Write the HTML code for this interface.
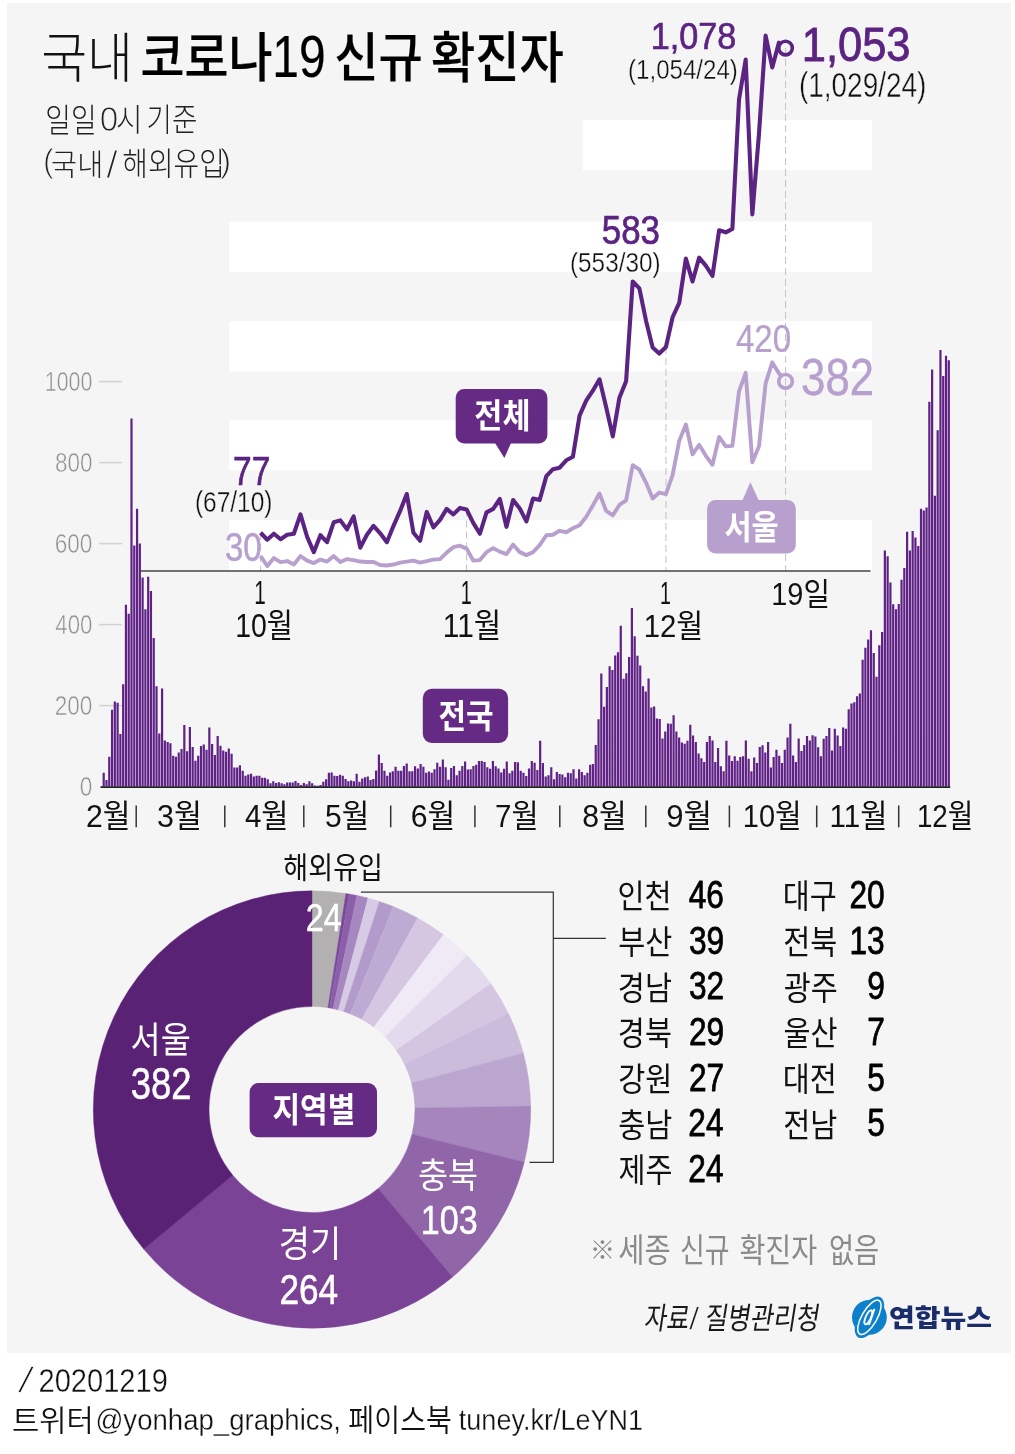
<!DOCTYPE html>
<html lang="ko"><head><meta charset="utf-8"><title>국내 코로나19 신규 확진자</title>
<style>
html,body{margin:0;padding:0;background:#fff}
svg{display:block}
text{font-family:"Liberation Sans","Noto Sans CJK KR",sans-serif;}
</style></head><body>
<svg width="1015" height="1454" viewBox="0 0 1015 1454">
<rect x="7.00" y="3.00" width="1004.00" height="1350.00" fill="#f5f5f5"/>
<text transform="translate(41.21,77.71) scale(0.9210,1)" font-size="54.16" font-weight="300" fill="#111">국내</text>
<text transform="translate(140.39,77.29) scale(0.8954,1)" font-size="53.44" font-weight="500" fill="#000" stroke="#000" stroke-width="0.21" stroke-linejoin="round">코로나</text>
<text transform="translate(272.34,76.91) scale(0.8192,1)" font-size="58.59" font-weight="400" fill="#000" stroke="#000" stroke-width="0.18" stroke-linejoin="round">19</text>
<text transform="translate(334.19,77.04) scale(0.9116,1)" font-size="52.90" font-weight="500" fill="#000" stroke="#000" stroke-width="0.21" stroke-linejoin="round">신규</text>
<text transform="translate(430.97,76.87) scale(0.8797,1)" font-size="54.73" font-weight="500" fill="#000" stroke="#000" stroke-width="0.22" stroke-linejoin="round">확진자</text>
<text transform="translate(45.26,131.55) scale(0.8597,1)" font-size="32.50" font-weight="300" fill="#222">일일</text>
<text transform="translate(99.83,130.84) scale(0.9710,1)" font-size="34.33" font-weight="400" fill="#222" stroke="#f5f5f5" stroke-width="1.03" stroke-linejoin="round">0</text>
<text transform="translate(116.08,131.25) scale(0.8947,1)" font-size="32.13" font-weight="300" fill="#222">시</text>
<text transform="translate(146.59,130.88) scale(0.8707,1)" font-size="31.69" font-weight="300" fill="#222">기준</text>
<text transform="translate(42.95,172.34) scale(0.9384,1)" font-size="34.00" font-weight="400" fill="#222" stroke="#f5f5f5" stroke-width="1.02" stroke-linejoin="round">(</text>
<text transform="translate(51.10,174.76) scale(0.9695,1)" font-size="29.21" font-weight="300" fill="#222">국내</text>
<text transform="translate(106.17,178.19) scale(1.0476,1)" font-size="39.43" font-weight="400" fill="#222" stroke="#f5f5f5" stroke-width="1.18" stroke-linejoin="round">/</text>
<text transform="translate(122.31,175.29) scale(0.8889,1)" font-size="31.33" font-weight="300" fill="#222">해외유입</text>
<text transform="translate(220.01,172.34) scale(0.9944,1)" font-size="34.00" font-weight="400" fill="#222" stroke="#f5f5f5" stroke-width="1.02" stroke-linejoin="round">)</text>
<rect x="229.10" y="520.10" width="643.10" height="50.30" fill="#fff"/>
<rect x="229.10" y="420.30" width="643.10" height="50.30" fill="#fff"/>
<rect x="229.10" y="321.20" width="643.10" height="50.30" fill="#fff"/>
<rect x="229.10" y="221.60" width="643.10" height="50.30" fill="#fff"/>
<rect x="582.70" y="119.90" width="289.50" height="50.30" fill="#fff"/>
<text transform="translate(79.77,796.00) scale(0.8298,1)" font-size="27.25" font-weight="400" fill="#8f8f8f" stroke="#f5f5f5" stroke-width="0.54" stroke-linejoin="round">0</text>
<text transform="translate(54.64,715.00) scale(0.8305,1)" font-size="27.25" font-weight="400" fill="#8f8f8f" stroke="#f5f5f5" stroke-width="0.54" stroke-linejoin="round">200</text>
<line x1="99.00" y1="705.60" x2="122.00" y2="705.60" stroke="#d2d2d2" stroke-width="1.5"/>
<text transform="translate(55.33,634.00) scale(0.8148,1)" font-size="27.25" font-weight="400" fill="#8f8f8f" stroke="#f5f5f5" stroke-width="0.54" stroke-linejoin="round">400</text>
<line x1="99.00" y1="624.60" x2="122.00" y2="624.60" stroke="#d2d2d2" stroke-width="1.5"/>
<text transform="translate(54.64,553.00) scale(0.8305,1)" font-size="27.25" font-weight="400" fill="#8f8f8f" stroke="#f5f5f5" stroke-width="0.54" stroke-linejoin="round">600</text>
<line x1="99.00" y1="543.60" x2="122.00" y2="543.60" stroke="#d2d2d2" stroke-width="1.5"/>
<text transform="translate(54.88,472.00) scale(0.8252,1)" font-size="27.25" font-weight="400" fill="#8f8f8f" stroke="#f5f5f5" stroke-width="0.54" stroke-linejoin="round">800</text>
<line x1="99.00" y1="462.60" x2="122.00" y2="462.60" stroke="#d2d2d2" stroke-width="1.5"/>
<text transform="translate(44.77,391.00) scale(0.7870,1)" font-size="27.25" font-weight="400" fill="#8f8f8f" stroke="#f5f5f5" stroke-width="0.54" stroke-linejoin="round">1000</text>
<line x1="99.00" y1="381.60" x2="122.00" y2="381.60" stroke="#d2d2d2" stroke-width="1.5"/>
<path d="M102.60 786.60V772.83H104.80V786.60ZM105.38 786.60V780.12H107.58V786.60ZM108.16 786.60V756.63H110.36V786.60ZM110.94 786.60V709.65H113.14V786.60ZM113.72 786.60V701.55H115.92V786.60ZM116.50 786.60V702.76H118.70V786.60ZM119.28 786.60V733.95H121.48V786.60ZM122.06 786.60V684.13H124.26V786.60ZM124.84 786.60V604.75H127.04V786.60ZM127.62 786.60V613.66H129.82V786.60ZM130.40 786.60V418.45H132.60V786.60ZM133.18 786.60V545.62H135.38V786.60ZM135.96 786.60V508.77H138.16V786.60ZM138.74 786.60V543.60H140.94V786.60ZM141.52 786.60V577.62H143.72V786.60ZM144.30 786.60V609.21H146.50V786.60ZM147.08 786.60V576.81H149.28V786.60ZM149.86 786.60V590.99H152.06V786.60ZM152.64 786.60V637.97H154.84V786.60ZM155.42 786.60V686.16H157.62V786.60ZM158.20 786.60V733.55H160.40V786.60ZM160.98 786.60V688.59H163.18V786.60ZM163.76 786.60V740.43H165.96V786.60ZM166.54 786.60V742.05H168.74V786.60ZM169.32 786.60V743.26H171.52V786.60ZM172.10 786.60V755.82H174.30V786.60ZM174.88 786.60V756.63H177.08V786.60ZM177.66 786.60V752.58H179.86V786.60ZM180.44 786.60V748.94H182.64V786.60ZM183.22 786.60V725.04H185.42V786.60ZM186.00 786.60V751.37H188.20V786.60ZM188.78 786.60V727.07H190.98V786.60ZM191.56 786.60V746.91H193.76V786.60ZM194.34 786.60V760.68H196.54V786.60ZM197.12 786.60V755.82H199.32V786.60ZM199.90 786.60V746.10H202.10V786.60ZM202.68 786.60V744.48H204.88V786.60ZM205.46 786.60V749.75H207.66V786.60ZM208.24 786.60V727.47H210.44V786.60ZM211.02 786.60V744.08H213.22V786.60ZM213.80 786.60V755.01H216.00V786.60ZM216.58 786.60V735.98H218.78V786.60ZM219.36 786.60V745.70H221.56V786.60ZM222.14 786.60V750.56H224.34V786.60ZM224.92 786.60V751.77H227.12V786.60ZM227.70 786.60V748.53H229.90V786.60ZM230.48 786.60V753.80H232.68V786.60ZM233.26 786.60V767.57H235.46V786.60ZM236.04 786.60V767.57H238.24V786.60ZM238.82 786.60V765.13H241.02V786.60ZM241.60 786.60V770.81H243.80V786.60ZM244.38 786.60V775.67H246.58V786.60ZM247.16 786.60V774.45H249.36V786.60ZM249.94 786.60V773.64H252.14V786.60ZM252.72 786.60V776.48H254.92V786.60ZM255.50 786.60V775.67H257.70V786.60ZM258.28 786.60V775.67H260.48V786.60ZM261.06 786.60V777.69H263.26V786.60ZM263.84 786.60V777.69H266.04V786.60ZM266.62 786.60V779.31H268.82V786.60ZM269.40 786.60V783.36H271.60V786.60ZM272.18 786.60V781.34H274.38V786.60ZM274.96 786.60V782.96H277.16V786.60ZM277.74 786.60V782.14H279.94V786.60ZM280.52 786.60V783.36H282.72V786.60ZM283.30 786.60V784.17H285.50V786.60ZM286.08 786.60V782.55H288.28V786.60ZM288.86 786.60V782.55H291.06V786.60ZM291.64 786.60V782.55H293.84V786.60ZM294.42 786.60V780.93H296.62V786.60ZM297.20 786.60V782.96H299.40V786.60ZM299.98 786.60V784.98H302.18V786.60ZM302.76 786.60V782.96H304.96V786.60ZM305.54 786.60V784.17H307.74V786.60ZM308.32 786.60V781.34H310.52V786.60ZM311.10 786.60V783.36H313.30V786.60ZM313.87 786.60V785.38H316.07V786.60ZM316.65 786.60V785.79H318.85V786.60ZM319.43 786.60V784.98H321.63V786.60ZM322.21 786.60V781.74H324.41V786.60ZM324.99 786.60V779.31H327.19V786.60ZM327.77 786.60V772.83H329.97V786.60ZM330.55 786.60V772.43H332.75V786.60ZM333.33 786.60V775.67H335.53V786.60ZM336.11 786.60V776.07H338.31V786.60ZM338.89 786.60V774.86H341.09V786.60ZM341.67 786.60V775.67H343.87V786.60ZM344.45 786.60V778.90H346.65V786.60ZM347.23 786.60V781.34H349.43V786.60ZM350.01 786.60V780.52H352.21V786.60ZM352.79 786.60V781.34H354.99V786.60ZM355.57 786.60V773.64H357.77V786.60ZM358.35 786.60V781.74H360.55V786.60ZM361.13 786.60V778.50H363.33V786.60ZM363.91 786.60V777.28H366.11V786.60ZM366.69 786.60V776.48H368.89V786.60ZM369.47 786.60V780.12H371.67V786.60ZM372.25 786.60V778.90H374.45V786.60ZM375.03 786.60V770.40H377.23V786.60ZM377.81 786.60V754.61H380.01V786.60ZM380.59 786.60V763.11H382.79V786.60ZM383.37 786.60V770.81H385.57V786.60ZM386.15 786.60V775.67H388.35V786.60ZM388.93 786.60V772.43H391.13V786.60ZM391.71 786.60V771.21H393.91V786.60ZM394.49 786.60V766.75H396.69V786.60ZM397.27 786.60V770.81H399.47V786.60ZM400.05 786.60V770.81H402.25V786.60ZM402.83 786.60V765.95H405.03V786.60ZM405.61 786.60V763.51H407.81V786.60ZM408.39 786.60V771.21H410.59V786.60ZM411.17 786.60V771.21H413.37V786.60ZM413.95 786.60V766.35H416.15V786.60ZM416.73 786.60V768.38H418.93V786.60ZM419.51 786.60V763.92H421.71V786.60ZM422.29 786.60V766.75H424.49V786.60ZM425.07 786.60V772.83H427.27V786.60ZM427.85 786.60V771.62H430.05V786.60ZM430.63 786.60V772.83H432.83V786.60ZM433.41 786.60V769.19H435.61V786.60ZM436.19 786.60V762.71H438.39V786.60ZM438.97 786.60V766.75H441.17V786.60ZM441.75 786.60V759.47H443.95V786.60ZM444.53 786.60V767.16H446.73V786.60ZM447.31 786.60V779.72H449.51V786.60ZM450.09 786.60V767.97H452.29V786.60ZM452.87 786.60V765.95H455.07V786.60ZM455.65 786.60V775.26H457.85V786.60ZM458.43 786.60V770.81H460.63V786.60ZM461.21 786.60V765.95H463.41V786.60ZM463.99 786.60V761.49H466.19V786.60ZM466.77 786.60V769.59H468.97V786.60ZM469.55 786.60V769.19H471.75V786.60ZM472.33 786.60V765.95H474.53V786.60ZM475.11 786.60V764.73H477.31V786.60ZM477.89 786.60V761.09H480.09V786.60ZM480.67 786.60V761.09H482.87V786.60ZM483.45 786.60V761.89H485.65V786.60ZM486.23 786.60V767.16H488.43V786.60ZM489.01 786.60V768.78H491.21V786.60ZM491.79 786.60V761.09H493.99V786.60ZM494.57 786.60V766.35H496.77V786.60ZM497.35 786.60V768.38H499.55V786.60ZM500.13 786.60V772.43H502.33V786.60ZM502.91 786.60V768.78H505.11V786.60ZM505.69 786.60V761.49H507.89V786.60ZM508.47 786.60V773.24H510.67V786.60ZM511.25 786.60V770.81H513.45V786.60ZM514.03 786.60V761.89H516.23V786.60ZM516.81 786.60V762.30H519.01V786.60ZM519.59 786.60V770.81H521.79V786.60ZM522.37 786.60V772.83H524.57V786.60ZM525.15 786.60V776.07H527.35V786.60ZM527.93 786.60V768.38H530.13V786.60ZM530.71 786.60V761.09H532.91V786.60ZM533.49 786.60V762.71H535.69V786.60ZM536.27 786.60V770.00H538.47V786.60ZM539.05 786.60V740.84H541.25V786.60ZM541.83 786.60V763.11H544.03V786.60ZM544.61 786.60V776.48H546.81V786.60ZM547.39 786.60V775.26H549.59V786.60ZM550.17 786.60V767.16H552.37V786.60ZM552.95 786.60V779.31H555.15V786.60ZM555.73 786.60V772.02H557.93V786.60ZM558.51 786.60V774.05H560.71V786.60ZM561.29 786.60V774.45H563.49V786.60ZM564.07 786.60V777.28H566.27V786.60ZM566.85 786.60V772.83H569.05V786.60ZM569.63 786.60V773.24H571.83V786.60ZM572.41 786.60V769.19H574.61V786.60ZM575.19 786.60V778.50H577.39V786.60ZM577.97 786.60V769.19H580.17V786.60ZM580.75 786.60V772.02H582.95V786.60ZM583.53 786.60V775.26H585.73V786.60ZM586.31 786.60V772.83H588.51V786.60ZM589.09 786.60V764.73H591.29V786.60ZM591.87 786.60V763.92H594.07V786.60ZM594.65 786.60V744.88H596.85V786.60ZM597.43 786.60V719.37H599.63V786.60ZM600.21 786.60V673.61H602.41V786.60ZM602.99 786.60V706.82H605.19V786.60ZM605.77 786.60V686.97H607.97V786.60ZM608.55 786.60V666.32H610.75V786.60ZM611.33 786.60V669.96H613.53V786.60ZM614.11 786.60V655.38H616.31V786.60ZM616.89 786.60V652.14H619.09V786.60ZM619.67 786.60V625.82H621.87V786.60ZM622.45 786.60V678.87H624.65V786.60ZM625.23 786.60V673.20H627.43V786.60ZM628.01 786.60V657.00H630.21V786.60ZM630.79 786.60V608.00H632.99V786.60ZM633.57 786.60V636.35H635.77V786.60ZM636.35 786.60V655.79H638.55V786.60ZM639.13 786.60V665.50H641.33V786.60ZM641.91 786.60V686.16H644.11V786.60ZM644.69 786.60V691.42H646.89V786.60ZM647.47 786.60V678.47H649.67V786.60ZM650.25 786.60V707.62H652.45V786.60ZM653.03 786.60V706.41H655.23V786.60ZM655.81 786.60V718.56H658.01V786.60ZM658.59 786.60V718.97H660.79V786.60ZM661.37 786.60V738.40H663.57V786.60ZM664.15 786.60V731.52H666.35V786.60ZM666.93 786.60V723.42H669.13V786.60ZM669.71 786.60V723.83H671.91V786.60ZM672.49 786.60V715.32H674.69V786.60ZM675.27 786.60V731.52H677.47V786.60ZM678.05 786.60V737.60H680.25V786.60ZM680.83 786.60V742.46H683.03V786.60ZM683.61 786.60V743.67H685.81V786.60ZM686.39 786.60V740.84H688.59V786.60ZM689.17 786.60V724.63H691.37V786.60ZM691.95 786.60V735.57H694.15V786.60ZM694.73 786.60V742.05H696.93V786.60ZM697.51 786.60V753.39H699.71V786.60ZM700.29 786.60V758.25H702.49V786.60ZM703.07 786.60V761.89H705.27V786.60ZM705.85 786.60V742.05H708.05V786.60ZM708.63 786.60V735.98H710.83V786.60ZM711.41 786.60V740.43H713.61V786.60ZM714.19 786.60V761.89H716.39V786.60ZM716.97 786.60V748.12H719.17V786.60ZM719.75 786.60V766.35H721.95V786.60ZM722.53 786.60V771.21H724.73V786.60ZM725.31 786.60V740.84H727.51V786.60ZM728.09 786.60V755.41H730.29V786.60ZM730.87 786.60V761.09H733.07V786.60ZM733.65 786.60V756.23H735.85V786.60ZM736.42 786.60V760.68H738.62V786.60ZM739.20 786.60V757.03H741.40V786.60ZM741.98 786.60V756.23H744.18V786.60ZM744.76 786.60V740.43H746.96V786.60ZM747.54 786.60V758.65H749.74V786.60ZM750.32 786.60V771.21H752.52V786.60ZM753.10 786.60V757.44H755.30V786.60ZM755.88 786.60V763.11H758.08V786.60ZM758.66 786.60V746.91H760.86V786.60ZM761.44 786.60V745.29H763.64V786.60ZM764.22 786.60V752.58H766.42V786.60ZM767.00 786.60V742.05H769.20V786.60ZM769.78 786.60V767.57H771.98V786.60ZM772.56 786.60V757.03H774.76V786.60ZM775.34 786.60V749.75H777.54V786.60ZM778.12 786.60V755.82H780.32V786.60ZM780.90 786.60V763.11H783.10V786.60ZM783.68 786.60V749.75H785.88V786.60ZM786.46 786.60V737.60H788.66V786.60ZM789.24 786.60V723.83H791.44V786.60ZM792.02 786.60V755.41H794.22V786.60ZM794.80 786.60V761.89H797.00V786.60ZM797.58 786.60V738.40H799.78V786.60ZM800.36 786.60V750.96H802.56V786.60ZM803.14 786.60V744.88H805.34V786.60ZM805.92 786.60V735.98H808.12V786.60ZM808.70 786.60V740.43H810.90V786.60ZM811.48 786.60V735.16H813.68V786.60ZM814.26 786.60V736.38H816.46V786.60ZM817.04 786.60V747.32H819.24V786.60ZM819.82 786.60V756.23H822.02V786.60ZM822.60 786.60V738.81H824.80V786.60ZM825.38 786.60V735.98H827.58V786.60ZM828.16 786.60V727.88H830.36V786.60ZM830.94 786.60V750.56H833.14V786.60ZM833.72 786.60V728.69H835.92V786.60ZM836.50 786.60V735.57H838.70V786.60ZM839.28 786.60V746.10H841.48V786.60ZM842.06 786.60V727.47H844.26V786.60ZM844.84 786.60V728.69H847.04V786.60ZM847.62 786.60V709.25H849.82V786.60ZM850.40 786.60V703.58H852.60V786.60ZM853.18 786.60V702.36H855.38V786.60ZM855.96 786.60V696.28H858.16V786.60ZM858.74 786.60V693.45H860.94V786.60ZM861.52 786.60V659.84H863.72V786.60ZM864.30 786.60V647.68H866.50V786.60ZM867.08 786.60V639.59H869.28V786.60ZM869.86 786.60V630.27H872.06V786.60ZM872.64 786.60V652.95H874.84V786.60ZM875.42 786.60V676.85H877.62V786.60ZM878.20 786.60V645.25H880.40V786.60ZM880.98 786.60V631.89H883.18V786.60ZM883.76 786.60V550.49H885.96V786.60ZM886.54 786.60V556.15H888.74V786.60ZM889.32 786.60V582.48H891.52V786.60ZM892.10 786.60V604.35H894.30V786.60ZM894.88 786.60V609.21H897.08V786.60ZM897.66 786.60V603.95H899.86V786.60ZM900.44 786.60V579.64H902.64V786.60ZM903.22 786.60V567.90H905.42V786.60ZM906.00 786.60V531.86H908.20V786.60ZM908.78 786.60V550.49H910.98V786.60ZM911.56 786.60V531.05H913.76V786.60ZM914.34 786.60V537.52H916.54V786.60ZM917.12 786.60V546.03H919.32V786.60ZM919.90 786.60V508.77H922.10V786.60ZM922.68 786.60V510.39H924.88V786.60ZM925.46 786.60V507.56H927.66V786.60ZM928.24 786.60V401.85H930.44V786.60ZM931.02 786.60V369.45H933.22V786.60ZM933.80 786.60V495.81H936.00V786.60ZM936.58 786.60V430.20H938.78V786.60ZM939.36 786.60V350.01H941.56V786.60ZM942.14 786.60V375.93H944.34V786.60ZM944.92 786.60V355.68H947.12V786.60ZM947.70 786.60V360.13H949.90V786.60Z" fill="#5f2186"/>
<line x1="260.60" y1="532.76" x2="260.60" y2="571.00" stroke="#c6c6c6" stroke-width="1.1" stroke-dasharray="7 4"/>
<line x1="466.60" y1="509.42" x2="466.60" y2="571.00" stroke="#c6c6c6" stroke-width="1.1" stroke-dasharray="7 4"/>
<line x1="665.94" y1="347.03" x2="665.94" y2="571.00" stroke="#c6c6c6" stroke-width="1.1" stroke-dasharray="7 4"/>
<line x1="785.55" y1="48.08" x2="785.55" y2="571.00" stroke="#c6c6c6" stroke-width="1.1" stroke-dasharray="7 4"/>
<polyline points="260.60,556.10 267.25,566.03 273.89,558.09 280.54,562.06 287.18,561.07 293.83,564.54 300.47,556.10 307.12,560.57 313.76,563.05 320.41,559.58 327.05,561.56 333.70,556.10 340.34,562.06 346.99,559.08 353.63,560.07 360.28,561.56 366.92,562.06 373.56,562.06 380.21,565.04 386.86,565.54 393.50,564.54 400.14,562.56 406.79,561.56 413.44,560.57 420.08,562.56 426.73,561.07 433.37,559.58 440.01,559.08 446.66,552.63 453.31,547.16 459.95,545.67 466.60,548.65 473.24,560.57 479.88,560.07 486.53,552.13 493.18,548.16 499.82,551.63 506.47,554.12 513.11,544.68 519.75,552.13 526.40,555.11 533.05,552.13 539.69,545.18 546.34,535.24 552.98,534.75 559.62,530.78 566.27,532.27 572.91,528.29 579.56,525.31 586.20,516.87 592.85,505.45 599.50,493.53 606.14,510.91 612.79,515.38 619.43,504.95 626.08,500.48 632.72,465.22 639.37,469.69 646.01,482.61 652.65,498.50 659.30,492.54 665.94,494.03 672.59,475.16 679.24,440.89 685.88,424.50 692.52,454.30 699.17,444.86 705.82,455.79 712.46,464.73 719.11,436.92 725.75,446.35 732.39,445.86 739.04,391.23 745.68,372.86 752.33,462.24 758.97,446.35 765.62,383.29 772.26,362.43 778.91,373.35 781.19,376.08" fill="none" stroke="#b8a0ce" stroke-width="3.9" stroke-linejoin="round" stroke-linecap="butt"/>
<polyline points="260.60,532.76 267.25,539.71 273.89,533.75 280.54,539.22 287.18,534.75 293.83,533.75 300.47,514.39 307.12,536.73 313.76,552.13 320.41,535.24 327.05,542.20 333.70,522.33 340.34,520.35 346.99,529.29 353.63,516.37 360.28,547.66 366.92,534.75 373.56,525.81 380.21,533.26 386.86,542.20 393.50,525.81 400.14,510.91 406.79,494.03 413.44,532.76 420.08,540.71 426.73,511.90 433.37,527.30 440.01,519.85 446.66,508.93 453.31,514.39 459.95,507.93 466.60,509.42 473.24,522.83 479.88,533.75 486.53,512.40 493.18,508.93 499.82,498.99 506.47,526.80 513.11,499.99 519.75,508.43 526.40,521.34 533.05,498.50 539.69,499.99 546.34,476.15 552.98,469.20 559.62,467.71 566.27,460.26 572.91,456.78 579.56,415.56 586.20,400.67 592.85,390.73 599.50,379.31 606.14,407.12 612.79,436.42 619.43,397.69 626.08,381.30 632.72,281.48 639.37,288.43 646.01,320.71 652.65,347.53 659.30,353.49 665.94,347.03 672.59,317.24 679.24,302.84 685.88,258.64 692.52,281.48 699.17,257.65 705.82,265.59 712.46,276.02 719.11,230.33 725.75,232.32 732.39,228.84 739.04,99.23 745.68,59.50 752.33,214.44 758.97,133.99 765.62,35.67 772.26,67.45 778.91,42.62 780.30,43.76" fill="none" stroke="#5c2482" stroke-width="4.1" stroke-linejoin="round" stroke-linecap="butt"/>
<circle cx="785.55" cy="381.30" r="6.8" fill="none" stroke="#b8a0ce" stroke-width="3.6"/>
<circle cx="785.55" cy="48.08" r="6.8" fill="none" stroke="#5c2482" stroke-width="3.6"/>
<line x1="140.30" y1="571.00" x2="870.50" y2="571.00" stroke="#444" stroke-width="1.7"/>
<text transform="translate(233.06,484.90) scale(0.8113,1)" font-size="41.29" font-weight="400" fill="#5c2482" stroke="#5c2482" stroke-width="0.74" stroke-linejoin="round">77</text>
<text transform="translate(194.89,512.28) scale(0.8566,1)" font-size="28.59" font-weight="400" fill="#111" stroke="#f5f5f5" stroke-width="0.34" stroke-linejoin="round">(67/10)</text>
<text transform="translate(224.91,561.40) scale(0.8262,1)" font-size="40.00" font-weight="400" fill="#b8a0ce" stroke="#b8a0ce" stroke-width="0.48" stroke-linejoin="round">30</text>
<text transform="translate(601.75,244.38) scale(0.8486,1)" font-size="41.10" font-weight="400" fill="#5c2482" stroke="#5c2482" stroke-width="0.74" stroke-linejoin="round">583</text>
<text transform="translate(570.00,272.29) scale(0.8671,1)" font-size="28.04" font-weight="400" fill="#111" stroke="#f5f5f5" stroke-width="0.34" stroke-linejoin="round">(553/30)</text>
<text transform="translate(650.81,49.05) scale(0.9115,1)" font-size="37.53" font-weight="400" fill="#5c2482" stroke="#5c2482" stroke-width="0.68" stroke-linejoin="round">1,078</text>
<text transform="translate(628.11,78.91) scale(0.8617,1)" font-size="27.93" font-weight="400" fill="#111" stroke="#f5f5f5" stroke-width="0.34" stroke-linejoin="round">(1,054/24)</text>
<text transform="translate(801.76,60.88) scale(0.9054,1)" font-size="48.00" font-weight="400" fill="#5c2482" stroke="#5c2482" stroke-width="0.86" stroke-linejoin="round">1,053</text>
<text transform="translate(798.94,97.07) scale(0.8065,1)" font-size="34.67" font-weight="400" fill="#111" stroke="#f5f5f5" stroke-width="0.42" stroke-linejoin="round">(1,029/24)</text>
<text transform="translate(735.94,352.12) scale(0.8610,1)" font-size="38.45" font-weight="400" fill="#b8a0ce" stroke="#b8a0ce" stroke-width="0.23" stroke-linejoin="round">420</text>
<text transform="translate(801.09,394.89) scale(0.8573,1)" font-size="50.99" font-weight="400" fill="#b8a0ce" stroke="#b8a0ce" stroke-width="0.41" stroke-linejoin="round">382</text>
<text transform="translate(254.34,604.00) scale(0.6347,1)" font-size="32.61" font-weight="400" fill="#111">1</text>
<text transform="translate(235.13,637.11) scale(0.8674,1)" font-size="32.78" font-weight="400" fill="#111">10월</text>
<text transform="translate(460.82,604.00) scale(0.6062,1)" font-size="32.61" font-weight="400" fill="#111">1</text>
<text transform="translate(442.81,637.11) scale(0.9118,1)" font-size="32.78" font-weight="400" fill="#111">11월</text>
<text transform="translate(659.94,604.10) scale(0.6072,1)" font-size="32.17" font-weight="400" fill="#111">1</text>
<text transform="translate(643.66,637.26) scale(0.9155,1)" font-size="32.00" font-weight="400" fill="#111">12월</text>
<text transform="translate(771.29,604.85) scale(0.9412,1)" font-size="30.67" font-weight="400" fill="#111">19일</text>
<rect x="455.70" y="388.90" width="91.70" height="54.70" fill="#652a84" rx="8.5"/>
<path d="M495 443L504.4 458L511 443Z" fill="#652a84"/>
<text transform="translate(474.28,427.77) scale(0.9086,1)" font-size="33.66" font-weight="700" fill="#fff">전체</text>
<rect x="707.10" y="499.90" width="88.70" height="53.70" fill="#b8a0ce" rx="8.5"/>
<path d="M742.4 500.5L750.3 482L758.8 500.5Z" fill="#b8a0ce"/>
<text transform="translate(724.42,539.39) scale(0.8819,1)" font-size="33.44" font-weight="700" fill="#fff">서울</text>
<rect x="422.80" y="688.80" width="85.30" height="54.20" fill="#652a84" rx="9"/>
<text transform="translate(438.40,727.86) scale(0.9178,1)" font-size="32.69" font-weight="700" fill="#fff">전국</text>
<rect x="249.60" y="1083.00" width="127.40" height="54.20" fill="#652a84" rx="9"/>
<text transform="translate(272.50,1121.96) scale(0.8897,1)" font-size="33.76" font-weight="700" fill="#fff">지역별</text>
<line x1="100.50" y1="787.10" x2="950.20" y2="787.10" stroke="#222" stroke-width="1.8"/>
<text transform="translate(85.89,826.56) scale(0.9446,1)" font-size="32.00" font-weight="400" fill="#111">2월</text>
<text transform="translate(157.08,826.56) scale(0.9516,1)" font-size="32.00" font-weight="400" fill="#111">3월</text>
<text transform="translate(244.91,826.56) scale(0.9236,1)" font-size="32.00" font-weight="400" fill="#111">4월</text>
<text transform="translate(325.00,826.56) scale(0.9375,1)" font-size="32.00" font-weight="400" fill="#111">5월</text>
<text transform="translate(410.79,826.56) scale(0.9446,1)" font-size="32.00" font-weight="400" fill="#111">6월</text>
<text transform="translate(495.02,826.56) scale(0.9233,1)" font-size="32.00" font-weight="400" fill="#111">7월</text>
<text transform="translate(582.19,826.56) scale(0.9445,1)" font-size="32.00" font-weight="400" fill="#111">8월</text>
<text transform="translate(666.35,826.56) scale(0.9706,1)" font-size="32.00" font-weight="400" fill="#111">9월</text>
<text transform="translate(742.78,826.56) scale(0.9054,1)" font-size="32.00" font-weight="400" fill="#111">10월</text>
<text transform="translate(829.43,826.56) scale(0.9252,1)" font-size="32.00" font-weight="400" fill="#111">11월</text>
<text transform="translate(916.88,826.56) scale(0.8682,1)" font-size="32.00" font-weight="400" fill="#111">12월</text>
<line x1="136.20" y1="805.50" x2="136.20" y2="827.30" stroke="#333" stroke-width="1.5"/>
<line x1="224.80" y1="805.50" x2="224.80" y2="827.30" stroke="#333" stroke-width="1.5"/>
<line x1="303.80" y1="805.50" x2="303.80" y2="827.30" stroke="#333" stroke-width="1.5"/>
<line x1="390.70" y1="805.50" x2="390.70" y2="827.30" stroke="#333" stroke-width="1.5"/>
<line x1="474.90" y1="805.50" x2="474.90" y2="827.30" stroke="#333" stroke-width="1.5"/>
<line x1="559.80" y1="805.50" x2="559.80" y2="827.30" stroke="#333" stroke-width="1.5"/>
<line x1="645.80" y1="805.50" x2="645.80" y2="827.30" stroke="#333" stroke-width="1.5"/>
<line x1="729.40" y1="805.50" x2="729.40" y2="827.30" stroke="#333" stroke-width="1.5"/>
<line x1="816.70" y1="805.50" x2="816.70" y2="827.30" stroke="#333" stroke-width="1.5"/>
<line x1="898.70" y1="805.50" x2="898.70" y2="827.30" stroke="#333" stroke-width="1.5"/>
<path d="M312.00 890.80A218.7 218.7 0 0 1 345.84 893.43L327.94 1007.74A103 103 0 0 0 312.00 1006.50Z" fill="#b2b0b1" stroke="#b2b0b1" stroke-width="0.4"/>
<path d="M345.84 893.43A218.7 218.7 0 0 1 349.22 893.99L329.53 1008.00A103 103 0 0 0 327.94 1007.74Z" fill="#7b499a" stroke="#7b499a" stroke-width="0.4"/>
<path d="M349.22 893.99A218.7 218.7 0 0 1 356.95 895.47L333.17 1008.70A103 103 0 0 0 329.53 1008.00Z" fill="#8a5ea8" stroke="#8a5ea8" stroke-width="0.4"/>
<path d="M356.95 895.47A218.7 218.7 0 0 1 368.05 898.10L338.40 1009.94A103 103 0 0 0 333.17 1008.70Z" fill="#a687c0" stroke="#a687c0" stroke-width="0.4"/>
<path d="M368.05 898.10A218.7 218.7 0 0 1 379.40 901.45L343.74 1011.51A103 103 0 0 0 338.40 1009.94Z" fill="#d6cae4" stroke="#d6cae4" stroke-width="0.4"/>
<path d="M379.40 901.45A218.7 218.7 0 0 1 393.29 906.47L350.28 1013.88A103 103 0 0 0 343.74 1011.51Z" fill="#b29bca" stroke="#b29bca" stroke-width="0.4"/>
<path d="M393.29 906.47A218.7 218.7 0 0 1 417.69 918.04L361.78 1019.33A103 103 0 0 0 350.28 1013.88Z" fill="#beabd3" stroke="#beabd3" stroke-width="0.4"/>
<path d="M417.69 918.04A218.7 218.7 0 0 1 443.46 934.72L373.92 1027.19A103 103 0 0 0 361.78 1019.33Z" fill="#d5c7e2" stroke="#d5c7e2" stroke-width="0.4"/>
<path d="M443.46 934.72A218.7 218.7 0 0 1 467.18 955.40L385.09 1036.92A103 103 0 0 0 373.92 1027.19Z" fill="#f0eaf6" stroke="#f0eaf6" stroke-width="0.4"/>
<path d="M467.18 955.40A218.7 218.7 0 0 1 490.93 983.75L396.27 1050.27A103 103 0 0 0 385.09 1036.92Z" fill="#e3daee" stroke="#e3daee" stroke-width="0.4"/>
<path d="M490.93 983.75A218.7 218.7 0 0 1 508.57 1013.63L404.58 1064.35A103 103 0 0 0 396.27 1050.27Z" fill="#d4c6e1" stroke="#d4c6e1" stroke-width="0.4"/>
<path d="M508.57 1013.63A218.7 218.7 0 0 1 523.30 1053.08L411.51 1082.93A103 103 0 0 0 404.58 1064.35Z" fill="#cbbcdb" stroke="#cbbcdb" stroke-width="0.4"/>
<path d="M523.30 1053.08A218.7 218.7 0 0 1 530.67 1106.06L414.99 1107.88A103 103 0 0 0 411.51 1082.93Z" fill="#bba6d0" stroke="#bba6d0" stroke-width="0.4"/>
<path d="M530.67 1106.06A218.7 218.7 0 0 1 524.30 1162.04L411.98 1134.24A103 103 0 0 0 414.99 1107.88Z" fill="#a585bc" stroke="#a585bc" stroke-width="0.4"/>
<path d="M524.30 1162.04A218.7 218.7 0 0 1 452.58 1277.03L378.21 1188.40A103 103 0 0 0 411.98 1134.24Z" fill="#9166a9" stroke="#9166a9" stroke-width="0.4"/>
<path d="M452.58 1277.03A218.7 218.7 0 0 1 143.85 1249.35L232.81 1175.36A103 103 0 0 0 378.21 1188.40Z" fill="#7a4395" stroke="#7a4395" stroke-width="0.4"/>
<path d="M143.85 1249.35A218.7 218.7 0 0 1 312.00 890.80L312.00 1006.50A103 103 0 0 0 232.81 1175.36Z" fill="#5a2275" stroke="#5a2275" stroke-width="0.4"/>
<text transform="translate(283.35,877.74) scale(0.9163,1)" font-size="29.56" font-weight="400" fill="#111">해외유입</text>
<text transform="translate(305.80,931.30) scale(0.8426,1)" font-size="38.43" font-weight="400" fill="#fff" stroke="#fff" stroke-width="0.46" stroke-linejoin="round">24</text>
<text transform="translate(130.56,1052.59) scale(0.9006,1)" font-size="36.37" font-weight="400" fill="#fff">서울</text>
<text transform="translate(130.81,1098.86) scale(0.8234,1)" font-size="44.23" font-weight="400" fill="#fff" stroke="#fff" stroke-width="0.53" stroke-linejoin="round">382</text>
<text transform="translate(278.76,1257.23) scale(0.9491,1)" font-size="35.82" font-weight="400" fill="#fff">경기</text>
<text transform="translate(279.39,1303.87) scale(0.8159,1)" font-size="43.24" font-weight="400" fill="#fff" stroke="#fff" stroke-width="0.52" stroke-linejoin="round">264</text>
<text transform="translate(417.97,1188.00) scale(0.9312,1)" font-size="35.05" font-weight="400" fill="#fff">충북</text>
<text transform="translate(420.81,1234.19) scale(0.8378,1)" font-size="40.70" font-weight="400" fill="#fff" stroke="#fff" stroke-width="0.49" stroke-linejoin="round">103</text>
<path d="M360.9 892.2H553.3V1162.3H529.5M553.3 938.4H605.8" fill="none" stroke="#333" stroke-width="1.2"/>
<text transform="translate(617.54,908.13) scale(0.8961,1)" font-size="32.81" font-weight="400" fill="#111">인천</text>
<text transform="translate(688.68,907.94) scale(0.8319,1)" font-size="38.08" font-weight="400" fill="#000" stroke="#000" stroke-width="0.76" stroke-linejoin="round">46</text>
<text transform="translate(618.13,953.83) scale(0.8961,1)" font-size="32.81" font-weight="400" fill="#111">부산</text>
<text transform="translate(689.00,953.64) scale(0.8319,1)" font-size="38.08" font-weight="400" fill="#000" stroke="#000" stroke-width="0.76" stroke-linejoin="round">39</text>
<text transform="translate(617.84,999.53) scale(0.8961,1)" font-size="32.81" font-weight="400" fill="#111">경남</text>
<text transform="translate(689.00,999.34) scale(0.8319,1)" font-size="38.08" font-weight="400" fill="#000" stroke="#000" stroke-width="0.76" stroke-linejoin="round">32</text>
<text transform="translate(617.84,1045.23) scale(0.8961,1)" font-size="32.81" font-weight="400" fill="#111">경북</text>
<text transform="translate(689.00,1045.04) scale(0.8319,1)" font-size="38.08" font-weight="400" fill="#000" stroke="#000" stroke-width="0.76" stroke-linejoin="round">29</text>
<text transform="translate(618.13,1090.93) scale(0.8961,1)" font-size="32.81" font-weight="400" fill="#111">강원</text>
<text transform="translate(689.00,1090.74) scale(0.8319,1)" font-size="38.08" font-weight="400" fill="#000" stroke="#000" stroke-width="0.76" stroke-linejoin="round">27</text>
<text transform="translate(618.13,1136.63) scale(0.8961,1)" font-size="32.81" font-weight="400" fill="#111">충남</text>
<text transform="translate(688.37,1136.44) scale(0.8319,1)" font-size="38.08" font-weight="400" fill="#000" stroke="#000" stroke-width="0.76" stroke-linejoin="round">24</text>
<text transform="translate(618.42,1182.33) scale(0.8961,1)" font-size="32.81" font-weight="400" fill="#111">제주</text>
<text transform="translate(688.37,1182.14) scale(0.8319,1)" font-size="38.08" font-weight="400" fill="#000" stroke="#000" stroke-width="0.76" stroke-linejoin="round">24</text>
<text transform="translate(782.65,908.13) scale(0.8961,1)" font-size="32.81" font-weight="400" fill="#111">대구</text>
<text transform="translate(849.38,907.94) scale(0.8319,1)" font-size="38.08" font-weight="400" fill="#000" stroke="#000" stroke-width="0.76" stroke-linejoin="round">20</text>
<text transform="translate(783.24,953.83) scale(0.8961,1)" font-size="32.81" font-weight="400" fill="#111">전북</text>
<text transform="translate(849.38,953.64) scale(0.8319,1)" font-size="38.08" font-weight="400" fill="#000" stroke="#000" stroke-width="0.76" stroke-linejoin="round">13</text>
<text transform="translate(783.82,999.53) scale(0.8961,1)" font-size="32.81" font-weight="400" fill="#111">광주</text>
<text transform="translate(867.13,999.34) scale(0.8319,1)" font-size="38.08" font-weight="400" fill="#000" stroke="#000" stroke-width="0.76" stroke-linejoin="round">9</text>
<text transform="translate(783.53,1045.23) scale(0.8961,1)" font-size="32.81" font-weight="400" fill="#111">울산</text>
<text transform="translate(867.13,1045.04) scale(0.8319,1)" font-size="38.08" font-weight="400" fill="#000" stroke="#000" stroke-width="0.76" stroke-linejoin="round">7</text>
<text transform="translate(782.65,1090.93) scale(0.8961,1)" font-size="32.81" font-weight="400" fill="#111">대전</text>
<text transform="translate(867.13,1090.74) scale(0.8319,1)" font-size="38.08" font-weight="400" fill="#000" stroke="#000" stroke-width="0.76" stroke-linejoin="round">5</text>
<text transform="translate(783.24,1136.63) scale(0.8961,1)" font-size="32.81" font-weight="400" fill="#111">전남</text>
<text transform="translate(867.13,1136.44) scale(0.8319,1)" font-size="38.08" font-weight="400" fill="#000" stroke="#000" stroke-width="0.76" stroke-linejoin="round">5</text>
<text transform="translate(589.64,1259.31) scale(1.0000,1)" font-size="25.42" font-weight="400" fill="#8a8a8a">※</text>
<text transform="translate(618.26,1261.50) scale(0.8756,1)" font-size="32.50" font-weight="400" fill="#8a8a8a">세종</text>
<text transform="translate(679.88,1261.50) scale(0.8306,1)" font-size="32.50" font-weight="400" fill="#8a8a8a">신규</text>
<text transform="translate(739.39,1261.50) scale(0.8680,1)" font-size="32.50" font-weight="400" fill="#8a8a8a">확진자</text>
<text transform="translate(828.96,1261.50) scale(0.8413,1)" font-size="32.50" font-weight="400" fill="#8a8a8a">없음</text>
<text transform="translate(643.61,1329.46) scale(0.7952,1) skewX(-11)" font-size="30.44" font-weight="400" fill="#1a1a1a">자료</text>
<text transform="translate(689.50,1329.46) scale(0.7211,1) skewX(-11)" font-size="30.44" font-weight="400" fill="#1a1a1a">/</text>
<text transform="translate(703.66,1329.46) scale(0.8191,1) skewX(-11)" font-size="30.44" font-weight="400" fill="#1a1a1a">질병관리청</text>
<g transform="translate(869.4,1317.3)"><circle r="17.4" fill="#0c80cb"/><ellipse rx="11" ry="23" transform="rotate(29)" fill="#0c80cb"/><ellipse rx="7.6" ry="19.3" transform="rotate(30)" fill="none" stroke="#fff" stroke-width="1.5"/><ellipse cx="-1" cy="0.5" rx="2.6" ry="7.6" transform="rotate(24)" fill="none" stroke="#fff" stroke-width="1.8"/><path d="M5 -8.5L-0.5 7.5" stroke="#fff" stroke-width="2" fill="none"/></g>
<text transform="translate(889.00,1326.92) scale(1.1280,1)" font-size="24.84" font-weight="900" fill="#1b2c6b">연합뉴스</text>
<text transform="translate(17.90,1391.90) scale(0.9900,1) skewX(-14)" font-size="35.35" font-weight="400" fill="#111" stroke="#fff" stroke-width="0.71" stroke-linejoin="round">/</text>
<text transform="translate(38.45,1391.90) scale(0.8924,1)" font-size="32.61" font-weight="400" fill="#111" stroke="#fff" stroke-width="0.36" stroke-linejoin="round">20201219</text>
<text transform="translate(11.92,1431.44) scale(1.0055,1)" font-size="29.45" font-weight="350" fill="#111">트위터</text>
<text transform="translate(458.86,1429.50) scale(0.9001,1)" font-size="30.00" font-weight="400" fill="#111" stroke="#fff" stroke-width="0.33" stroke-linejoin="round">tuney.kr/LeYN1</text>
<text transform="translate(95.39,1429.50) scale(0.9194,1)" font-size="30.00" font-weight="400" fill="#111" stroke="#fff" stroke-width="0.33" stroke-linejoin="round">@yonhap_graphics,</text>
<text transform="translate(348.37,1431.41) scale(0.9054,1)" font-size="31.10" font-weight="350" fill="#111">페이스북</text>
</svg>
</body></html>
